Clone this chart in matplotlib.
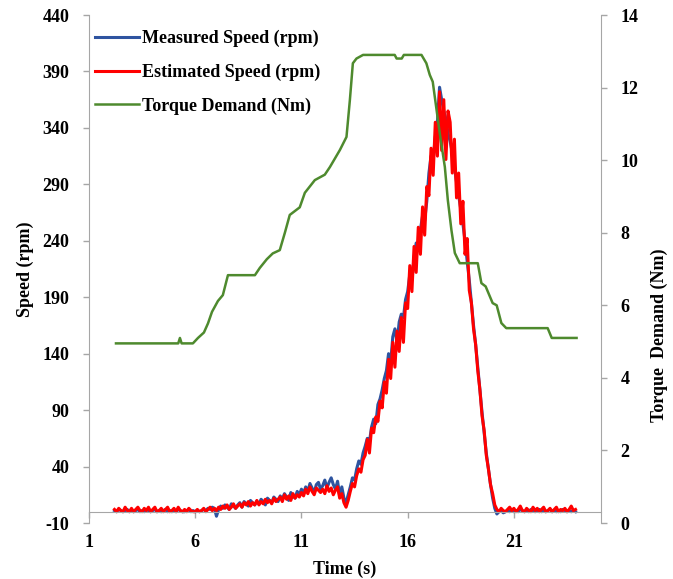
import matplotlib
matplotlib.use("Agg")
import matplotlib.pyplot as plt
import numpy as np

plt.rcParams['font.family'] = ['Liberation Serif', 'DejaVu Serif']
plt.rcParams['font.weight'] = 'bold'
plt.rcParams['axes.unicode_minus'] = False

# speed samples every 0.1 s from 2.2 s to 23.9 s
time = np.round(np.arange(2.2, 23.95, 0.1), 1)

measured = [
    1, 0, 2, 1, 0, 1, 2, 0,
    1, 0, 1, 2, 0, 1, 0, 2, 1, 0,
    1, 2, 0, 1, 0, 1, 2, 0, 1, 0,
    1, 0, 2, 1, 0, 0, 1, 2, 0, 1,
    0, 1, 0, 1, 2, 1, 3, 2, 4, 3,
    -4, 2, 5, 3, 6, 4, 2, 7, 5, 3,
    6, 8, 4, 9, 7, 5, 10, 8, 6, 9,
    7, 11, 9, 6, 12, 10, 8, 13, 11, 9,
    14, 11, 16, 13, 10, 17, 14, 12, 18, 15,
    20, 16, 22, 18, 25, 21, 17, 24, 26, 20,
    23, 28, 21, 26, 30, 24, 20, 27, 14, 22,
    12, 8, 15, 22, 30, 28, 38, 45, 42, 52,
    58, 65, 62, 75, 82, 78, 95, 100, 108, 118,
    125, 140, 132, 155, 162, 150, 168, 175, 172, 188,
    195, 210, 205, 225, 238, 232, 250, 262, 258, 275,
    300, 315, 312, 332, 345, 376, 365, 355, 348, 335,
    328, 318, 305, 292, 280, 268, 255, 240, 222, 205,
    185, 165, 148, 128, 108, 88, 70, 52, 38, 24,
    12, 3, -2, 0, 1, -1, 0, 1, 0, 2,
    0, 1, 0, 2, 1, 0, 1, 0, 2, 1,
    0, 1, 2, 0, 1, 0, 1, 2, 0, 1,
    0, 1, 0, 2, 1, 0, 1, 0, 1, 0,
]

estimated = [
    2, 0, 3, 1, 0, 4, 1, 0,
    3, 0, 2, 4, 1, 0, 3, 1, 4, 0,
    2, 4, 0, 1, 3, 0, 2, 4, 0, 1,
    3, 0, 4, 1, 0, 2, 0, 3, 1, 0,
    0, 2, 0, 1, 3, 0, 2, 4, 1, 3,
    1, 4, 2, 5, 3, 6, 2, 4, 7, 3,
    5, 7, 4, 8, 6, 9, 5, 8, 6, 10,
    6, 9, 7, 11, 8, 10, 7, 12, 9, 11,
    13, 9, 15, 11, 14, 10, 16, 12, 15, 13,
    17, 14, 20, 16, 22, 18, 15, 21, 19, 17,
    20, 16, 23, 18, 21, 15, 19, 22, 12, 16,
    8, 4, 10, 18, 25, 22, 32, 38, 35, 46,
    50, 64, 52, 74, 70, 84, 80, 98, 92, 115,
    105, 135, 118, 150, 128, 160, 142, 172, 150, 185,
    180, 218, 195, 235, 212, 252, 228, 270, 245, 288,
    280, 322, 298, 345, 315, 372, 320, 365, 312, 355,
    345, 300, 330, 278, 300, 255, 275, 228, 242, 196,
    185, 162, 148, 125, 108, 85, 72, 50, 38, 24,
    16, 6, 2, 0, 3, 1, 0, 2, 4, 1,
    3, 0, 2, 5, 1, 0, 3, 1, 0, 4,
    1, 3, 0, 2, 4, 0, 1, 3, 0, 2,
    4, 0, 2, 1, 3, 0, 2, 5, 1, 2,
]

torque_t = [2.27, 5.2, 5.28, 5.36, 5.89, 6.13, 6.41, 6.6, 6.79, 7.07, 7.3, 7.54,
            8.81, 9.04, 9.37, 9.65, 9.98, 10.22, 10.45, 10.92, 11.16, 11.63,
            12.1, 12.34, 12.81, 13.12, 13.28, 13.42, 13.59, 13.9, 15.39, 15.48,
            15.72, 15.82, 16.65, 16.88, 17.04, 17.18, 17.51, 17.75, 17.89,
            18.06, 18.22, 18.45, 19.3, 19.47, 19.67, 20.0, 20.19, 20.41, 20.64,
            22.59, 22.78, 23.95]
torque = [4.95, 4.95, 5.1, 4.95, 4.95, 5.1, 5.25, 5.5, 5.82, 6.12, 6.28, 6.83,
          6.83, 7.03, 7.27, 7.43, 7.52, 8.0, 8.49, 8.7, 9.1, 9.45,
          9.6, 9.81, 10.28, 10.64, 11.66, 12.67, 12.8, 12.9, 12.9, 12.8,
          12.8, 12.9, 12.9, 12.67, 12.35, 12.16, 10.74, 9.81, 8.9,
          8.07, 7.44, 7.16, 7.16, 6.61, 6.52, 6.06, 6.0, 5.51, 5.37,
          5.37, 5.1, 5.1]

x_ticks = [1, 6, 11, 16, 21]
speed_ticks = list(range(-10, 441, 50))
torque_ticks = list(range(0, 15, 2))

fig = plt.figure(figsize=(6.73, 5.79), dpi=100)
ax = fig.add_axes([89 / 673, 1 - 523 / 579, 512 / 673, 508 / 579])
ax2 = ax.twinx()

l1, = ax.plot(time, measured, color='#2E54A0', lw=2.2, label='Measured Speed (rpm)')
l2, = ax.plot(time, estimated, color='#FF0000', lw=2.2, label='Estimated Speed (rpm)')
l3, = ax2.plot(torque_t, torque, color='#4E8A2E', lw=1.8, label='Torque Demand (Nm)')

ax.set_xlim(1, 25.1)
ax.set_ylim(-10, 440)
ax2.set_ylim(0, 14)
ax.set_xticks(x_ticks)
ax.set_yticks(speed_ticks)
ax2.set_yticks(torque_ticks)

grey = '#A6A6A6'
for a in (ax, ax2):
    a.spines['top'].set_visible(False)
    for s in ('left', 'right', 'bottom'):
        a.spines[s].set_color(grey)
ax.spines['right'].set_visible(False)
ax2.spines['left'].set_visible(False)
ax2.spines['bottom'].set_visible(False)
ax.spines['bottom'].set_position(('data', 0))

ax.tick_params(axis='y', direction='out', length=4, width=1, color=grey,
               labelsize=13, pad=10)
ax.tick_params(axis='x', direction='out', length=4, width=1, color=grey,
               labelsize=13, pad=12)
ax2.tick_params(axis='y', direction='out', length=4, width=1, color=grey,
                labelsize=13, pad=10)

ax.set_xlabel('Time (s)', fontsize=13, fontweight='bold', labelpad=7)
ax.set_ylabel('Speed (rpm)', fontsize=13, fontweight='bold')
ax.yaxis.set_label_coords(-0.108, 0.5)
ax2.set_ylabel('Torque  Demand (Nm)', fontsize=13, fontweight='bold')
ax2.yaxis.set_label_coords(1.097, 0.37)

ax2.legend(handles=[l1, l2, l3], loc='upper left', bbox_to_anchor=(-0.012, 0.995),
           frameon=False, fontsize=13, handlelength=2.4, handletextpad=0.2,
           labelspacing=0.9, borderaxespad=0.3)

fig.savefig('out.png', dpi=100)
